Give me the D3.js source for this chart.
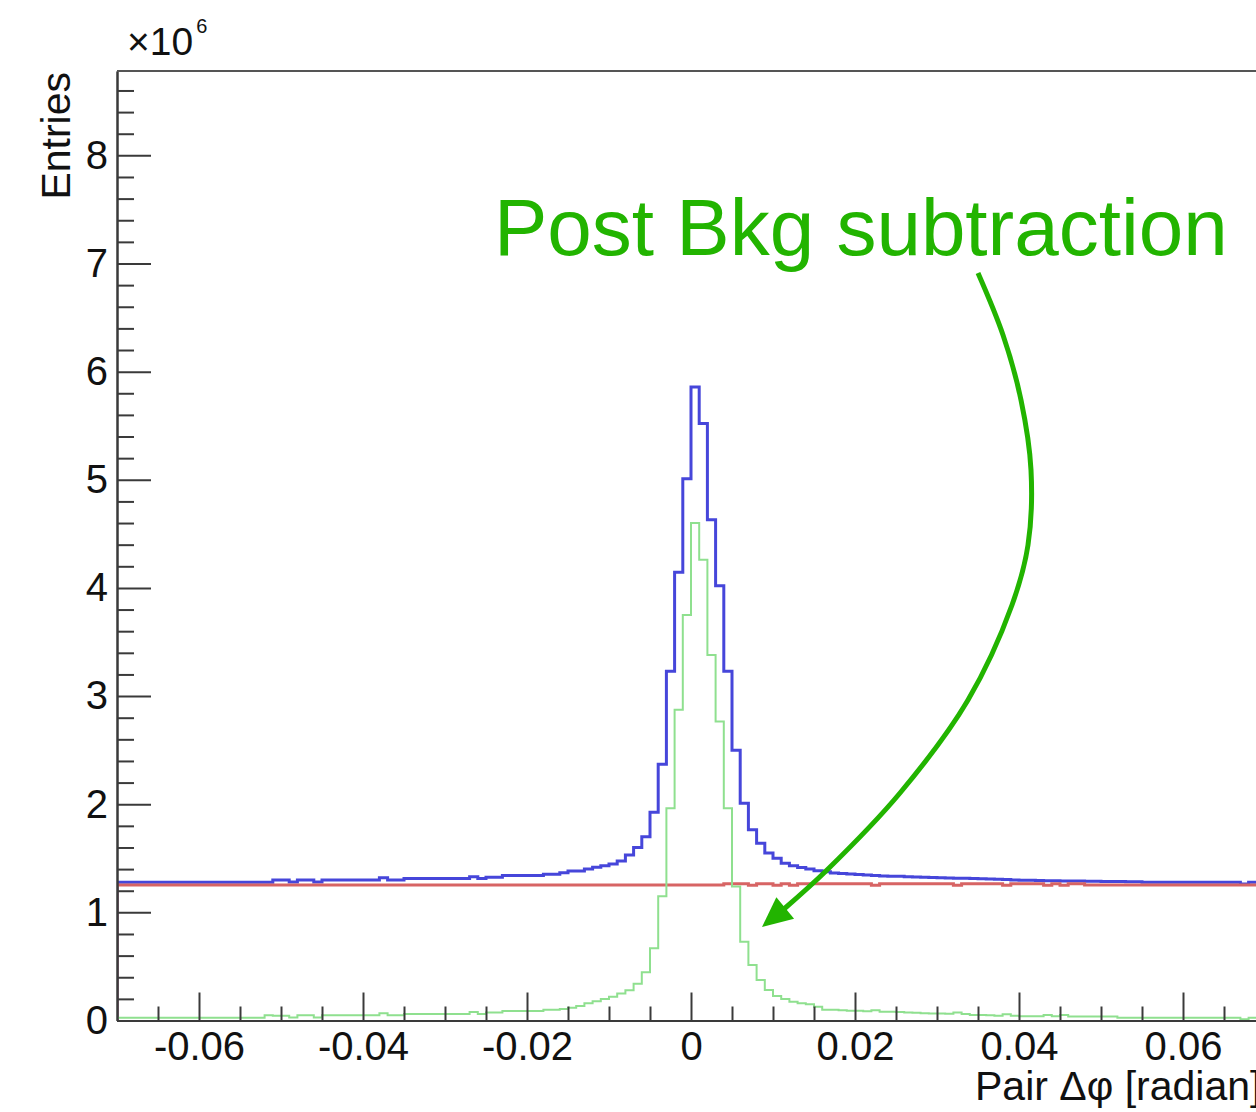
<!DOCTYPE html>
<html>
<head>
<meta charset="utf-8">
<script src="https://cdn.jsdelivr.net/npm/d3@7"></script>
<style>
  body { margin: 0; background: #fff; }
  svg { display: block; font-family: "Liberation Sans", Arial, sans-serif; }
</style>
</head>
<body>
<svg width="1256" height="1112"></svg>
<script>
// histogram bins: 140 bins of width 0.001 from -0.07 to 0.07
const xDomain = [-0.07, 0.07];
const binWidth = 0.001;
const yMax = 8.78; // x10^6

// all-pairs (blue), in units of 10^6 entries
const blueCounts = [
  1.278, 1.278, 1.278, 1.278, 1.278, 1.278, 1.278, 1.278, 1.278, 1.278,
  1.278, 1.278, 1.278, 1.278, 1.278, 1.278, 1.278, 1.278, 1.278, 1.30,
  1.30, 1.28, 1.30, 1.30, 1.28, 1.30, 1.30, 1.30, 1.30, 1.30,
  1.30, 1.30, 1.32, 1.30, 1.30, 1.312, 1.312, 1.312, 1.312, 1.312,
  1.312, 1.312, 1.312, 1.33, 1.312, 1.325, 1.325, 1.34, 1.34, 1.34,
  1.34, 1.34, 1.352, 1.352, 1.367, 1.383, 1.383, 1.40, 1.417, 1.432,
  1.448, 1.475, 1.531, 1.60, 1.70, 1.926, 2.37, 3.23, 4.146, 5.01,
  5.857, 5.52, 4.63, 4.02, 3.23, 2.50, 2.01, 1.763, 1.64, 1.55,
  1.50, 1.455, 1.43, 1.414, 1.40, 1.385, 1.376, 1.365, 1.36, 1.355,
  1.35, 1.345, 1.34, 1.337, 1.335, 1.333, 1.33, 1.328, 1.325, 1.322,
  1.32, 1.318, 1.316, 1.315, 1.313, 1.31, 1.308, 1.305, 1.303, 1.30,
  1.298, 1.296, 1.294, 1.293, 1.292, 1.29, 1.29, 1.29, 1.288, 1.288,
  1.286, 1.286, 1.285, 1.284, 1.283, 1.278, 1.278, 1.278, 1.278, 1.278,
  1.278, 1.278, 1.278, 1.278, 1.278, 1.278, 1.278, 1.262, 1.278, 1.278
];

// background (red)
const redCounts = [
  1.252, 1.252, 1.252, 1.252, 1.252, 1.252, 1.252, 1.252, 1.252, 1.252,
  1.252, 1.252, 1.252, 1.252, 1.252, 1.252, 1.252, 1.252, 1.252, 1.252,
  1.252, 1.252, 1.252, 1.252, 1.252, 1.252, 1.252, 1.252, 1.252, 1.252,
  1.252, 1.252, 1.252, 1.252, 1.252, 1.252, 1.252, 1.252, 1.252, 1.252,
  1.252, 1.252, 1.252, 1.252, 1.252, 1.252, 1.252, 1.252, 1.252, 1.252,
  1.252, 1.252, 1.252, 1.252, 1.252, 1.252, 1.252, 1.252, 1.252, 1.252,
  1.252, 1.252, 1.252, 1.252, 1.252, 1.252, 1.252, 1.252, 1.252, 1.252,
  1.252, 1.252, 1.252, 1.252, 1.265, 1.265, 1.265, 1.25, 1.265, 1.265,
  1.25, 1.265, 1.25, 1.265, 1.265, 1.265, 1.265, 1.265, 1.265, 1.265,
  1.265, 1.265, 1.25, 1.265, 1.265, 1.265, 1.265, 1.265, 1.265, 1.265,
  1.265, 1.265, 1.25, 1.265, 1.265, 1.265, 1.265, 1.265, 1.25, 1.265,
  1.265, 1.265, 1.265, 1.25, 1.265, 1.25, 1.265, 1.265, 1.253, 1.253,
  1.253, 1.253, 1.253, 1.253, 1.253, 1.253, 1.253, 1.253, 1.253, 1.253,
  1.253, 1.253, 1.253, 1.253, 1.253, 1.253, 1.253, 1.253, 1.253, 1.253
];

// post background subtraction (green)
const greenCounts = [
  0.026, 0.026, 0.026, 0.026, 0.026, 0.026, 0.026, 0.026, 0.026, 0.026,
  0.026, 0.026, 0.026, 0.026, 0.026, 0.026, 0.026, 0.026, 0.048, 0.045,
  0.045, 0.028, 0.048, 0.048, 0.028, 0.048, 0.048, 0.048, 0.048, 0.048,
  0.048, 0.048, 0.068, 0.048, 0.048, 0.06, 0.06, 0.06, 0.06, 0.06,
  0.06, 0.06, 0.06, 0.078, 0.06, 0.075, 0.075, 0.088, 0.088, 0.088,
  0.088, 0.088, 0.10, 0.10, 0.106, 0.118, 0.134, 0.159, 0.178, 0.199,
  0.22, 0.25, 0.28, 0.34, 0.446, 0.668, 1.15, 1.963, 2.873, 3.75,
  4.60, 4.26, 3.38, 2.764, 1.963, 1.238, 0.729, 0.513, 0.375, 0.282,
  0.227, 0.199, 0.174, 0.159, 0.15, 0.128, 0.10, 0.10, 0.095, 0.09,
  0.09, 0.085, 0.095, 0.08, 0.08, 0.078, 0.075, 0.072, 0.067, 0.065,
  0.065, 0.063, 0.075, 0.06, 0.05, 0.05, 0.048, 0.045, 0.058, 0.043,
  0.04, 0.04, 0.04, 0.05, 0.04, 0.05, 0.038, 0.038, 0.036, 0.036,
  0.036, 0.036, 0.026, 0.026, 0.026, 0.026, 0.026, 0.026, 0.026, 0.026,
  0.026, 0.026, 0.026, 0.026, 0.026, 0.026, 0.026, 0.012, 0.026, 0.026
];

const xMajorTicks = [-0.06, -0.04, -0.02, 0, 0.02, 0.04, 0.06];
const xTickLabels = ['-0.06', '-0.04', '-0.02', '0', '0.02', '0.04', '0.06'];
const yMajorTicks = [0, 1, 2, 3, 4, 5, 6, 7, 8];

const annotationText = 'Post Bkg subtraction';
const xTitle = 'Pair \u0394\u03c6 [radian]';
const yTitle = 'Entries';

// ---- layout ----
const frame = { left: 117, right: 1265, top: 71, bottom: 1020.5 };
const fontSize = 40;
const axisColor = '#3a3a3a';
const annotColor = '#22b400';

var svg = d3.select('svg');
svg.append('rect').attr('width', 1256).attr('height', 1112).attr('fill', '#fff');

var x = d3.scaleLinear().domain(xDomain).range([frame.left, frame.right]);
var y = d3.scaleLinear().domain([0, yMax]).range([frame.bottom, frame.top]);

svg.append('defs').append('clipPath').attr('id', 'frameClip')
  .append('rect')
  .attr('x', frame.left).attr('y', frame.top)
  .attr('width', frame.right - frame.left).attr('height', frame.bottom - frame.top);

// step outline like a ROOT histogram
function stepPath(counts) {
  var p = d3.path();
  var x0 = x(xDomain[0]);
  p.moveTo(x0, y(0));
  counts.forEach(function (v, i) {
    var lo = xDomain[0] + i * binWidth;
    p.lineTo(x(lo), y(v));
    p.lineTo(x(lo + binWidth), y(v));
  });
  p.lineTo(x(xDomain[0] + counts.length * binWidth), y(0));
  return p.toString();
}

var hists = svg.append('g').attr('clip-path', 'url(#frameClip)');
[
  { counts: blueCounts, color: '#4646da', width: 3 },
  { counts: redCounts, color: '#d76464', width: 3 },
  { counts: greenCounts, color: '#8fe08f', width: 2 }
].forEach(function (s) {
  hists.append('path')
    .attr('d', stepPath(s.counts))
    .attr('fill', 'none')
    .attr('stroke', s.color)
    .attr('stroke-width', s.width)
    .attr('stroke-linejoin', 'miter');
});

// ---- axes ----
var xMinor = d3.range(-14, 15).map(function (k) { return k * 0.005; })
  .filter(function (v) { return Math.abs(v) < 0.0699 && Math.round(v * 1000) % 20 !== 0; });

var xAxisG = svg.append('g').attr('transform', 'translate(0,' + frame.bottom + ')');
xAxisG.append('g').call(
  d3.axisBottom(x).tickValues(xMinor).tickSize(-14).tickSizeOuter(0).tickFormat('')
);
xAxisG.append('g').call(
  d3.axisBottom(x).tickValues(xMajorTicks).tickSize(-28).tickSizeOuter(0).tickPadding(11)
    .tickFormat(function (d, i) { return xTickLabels[i]; })
);

var yMinor = d3.range(0, 44).map(function (k) { return k * 0.2; })
  .filter(function (v) { return v < yMax && Math.abs(v - Math.round(v)) > 1e-6; });

var yAxisG = svg.append('g').attr('transform', 'translate(' + frame.left + ',0)');
yAxisG.append('g').call(
  d3.axisLeft(y).tickValues(yMinor).tickSize(-17).tickSizeOuter(0).tickFormat('')
);
yAxisG.append('g').call(
  d3.axisLeft(y).tickValues(yMajorTicks).tickSize(-34).tickSizeOuter(0).tickPadding(9)
    .tickFormat(d3.format('d'))
);

svg.selectAll('.tick line').attr('stroke', axisColor).attr('stroke-width', 2);
svg.selectAll('.domain').attr('stroke', axisColor).attr('stroke-width', 2);
svg.selectAll('.tick text')
  .attr('fill', '#111')
  .style('font-size', fontSize + 'px')
  .style('font-family', '"Liberation Sans", Arial, sans-serif');

// top frame line and right frame line
svg.append('line')
  .attr('x1', frame.left).attr('x2', frame.right)
  .attr('y1', frame.top).attr('y2', frame.top)
  .attr('stroke', '#555').attr('stroke-width', 2);
svg.append('line')
  .attr('x1', frame.right).attr('x2', frame.right)
  .attr('y1', frame.top).attr('y2', frame.bottom)
  .attr('stroke', '#555').attr('stroke-width', 2);

// exponent label
var expo = svg.append('text')
  .attr('x', 127).attr('y', 55)
  .attr('fill', '#111')
  .style('font-size', '39px');
expo.append('tspan').text('\u00d710');
expo.append('tspan').attr('dx', 3).attr('dy', -22).style('font-size', '20px').text('6');

// axis titles
svg.append('text')
  .attr('x', 975).attr('y', 1100)
  .attr('fill', '#111')
  .style('font-size', '41px')
  .text(xTitle);

svg.append('text')
  .attr('transform', 'translate(70,72) rotate(-90)')
  .attr('text-anchor', 'end')
  .attr('fill', '#111')
  .style('font-size', '41px')
  .text(yTitle);

// ---- annotation ----
svg.append('text')
  .attr('x', 494).attr('y', 255)
  .attr('fill', annotColor)
  .style('font-size', '80px')
  .text(annotationText);

var arrowPts = [
  [978, 273], [1003, 335], [1021, 400], [1031, 470], [1028, 545],
  [1012, 605], [968, 700], [900, 793], [827, 870], [784, 909]
];
svg.append('path')
  .attr('d', d3.line().curve(d3.curveCatmullRom)(arrowPts))
  .attr('fill', 'none')
  .attr('stroke', annotColor)
  .attr('stroke-width', 5);

var tip = [762, 927];
var last = arrowPts[arrowPts.length - 1];
var dx = tip[0] - last[0], dy = tip[1] - last[1];
var len = Math.sqrt(dx * dx + dy * dy);
var ux = dx / len, uy = dy / len;
var base = [tip[0] - 30 * ux, tip[1] - 30 * uy];
svg.append('path')
  .attr('d', 'M' + tip + 'L' + [base[0] - 14 * uy, base[1] + 14 * ux] +
    'L' + [base[0] + 14 * uy, base[1] - 14 * ux] + 'Z')
  .attr('fill', annotColor);
</script>
</body>
</html>
